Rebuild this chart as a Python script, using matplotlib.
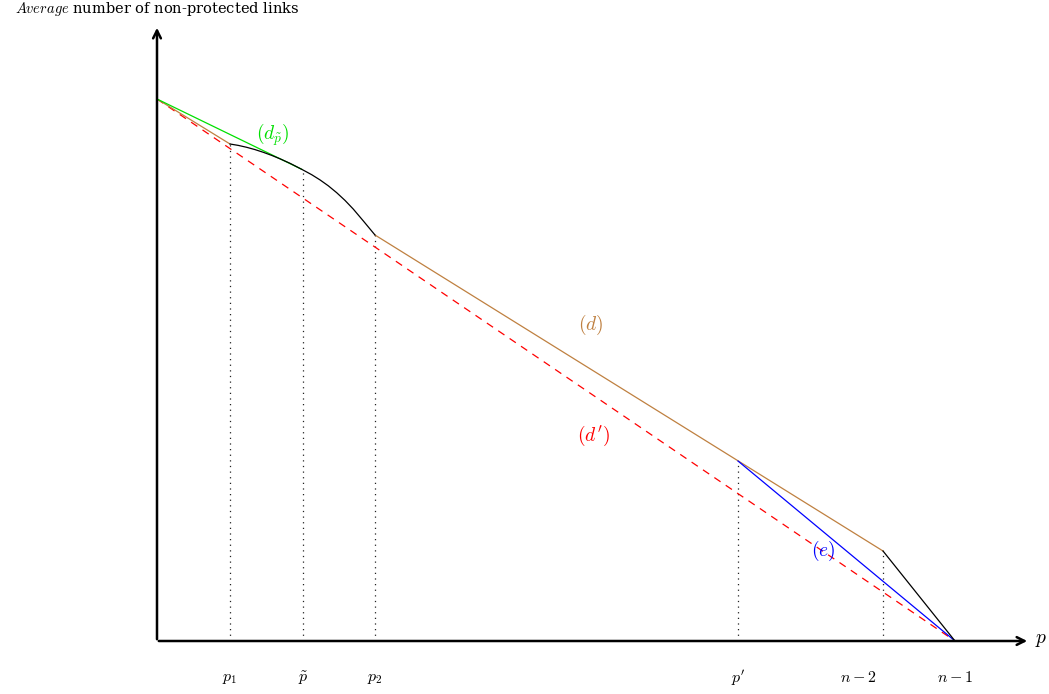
import matplotlib.pyplot as plt

plt.rcParams['mathtext.fontset'] = 'cm'
plt.rcParams['font.family'] = 'DejaVu Serif'

# positions on the p axis
p_names = [r'$p_1$', r'$\tilde{p}$', r'$p_2$', r"$p'$", r'$n-2$', r'$n-1$']
p_vals = [73, 146, 218, 581, 726, 798]
label_x = [73, 146, 218, 581, 701, 798]

y0 = 542  # value at p = 0

# curve between p1 and p2
curve_x = [73, 81.3, 89.7, 98, 106.3, 114.7, 123, 133, 144.7, 154.7, 163,
           171.3, 179.7, 188, 196.3, 206.3, 218]
curve_y = [497, 495.6, 493.7, 491.4, 488.7, 485.6, 482.2, 477.7, 471.7, 466.3,
           461.1, 455.2, 448.3, 440.6, 431.9, 420.1, 406]

# straight pieces
d_start_x = [0, 73]
d_start_y = [y0, 497]
d_x = [218, 726]
d_y = [406, 90]
dp_x = [0, 144.7]
dp_y = [y0, 471.7]
e_x = [581, 798]
e_y = [180, 0]
tail_x = [726, 798]
tail_y = [90, 0]
dprime_x = [0, 798]
dprime_y = [y0, 0]

# tops of the dotted verticals
drop_x = [73, 146, 218, 581, 726]
drop_top = [497, 471, 406, 180, 90]

brown = '#bf8040'
green = '#00e000'

fig = plt.figure(figsize=(10.49, 6.94), dpi=100)
ax = fig.add_axes([0, 0, 1, 1])
ax.set_xlim(-157, 892)
ax.set_ylim(-53, 641)
ax.axis('off')

for x, t in zip(drop_x, drop_top):
    ax.plot([x, x], [0, t], color='#222222', lw=0.9, linestyle=(0, (1, 3.5)))

ax.plot(dprime_x, dprime_y, color='red', lw=0.9, linestyle=(0, (6, 5)))
ax.plot(d_start_x, d_start_y, color=brown, lw=0.9)
ax.plot(d_x, d_y, color=brown, lw=0.9)
ax.plot(dp_x, dp_y, color=green, lw=0.9)
ax.plot(curve_x, curve_y, color='black', lw=0.9)
ax.plot(e_x, e_y, color='blue', lw=0.9)
ax.plot(tail_x, tail_y, color='black', lw=0.9)

# axes with arrows
ax.annotate('', xy=(873, 0), xytext=(-1, 0),
            arrowprops=dict(arrowstyle='->', lw=1.8, color='black', mutation_scale=14))
ax.annotate('', xy=(0, 616), xytext=(0, -1),
            arrowprops=dict(arrowstyle='->', lw=1.8, color='black', mutation_scale=14))
ax.text(878, 1, r'$p$', fontsize=14, va='center', ha='left')
ax.text(0, 632, r'$\mathit{Average}$ number of non-protected links',
        fontsize=10.5, ha='center', va='center')

for name, x in zip(p_names, label_x):
    ax.text(x, -37, name, fontsize=11.5, ha='center', va='center')

ax.text(116, 506, r'$(d_{\tilde{p}})$', color=green, fontsize=14, ha='center', va='center')
ax.text(434, 316, r'$(d)$', color=brown, fontsize=14, ha='center', va='center')
ax.text(436, 205, r"$(d')$", color='red', fontsize=14, ha='center', va='center')
ax.text(666, 90, r'$(e)$', color='blue', fontsize=14, ha='center', va='center')

fig.savefig('out.png', dpi=100)
